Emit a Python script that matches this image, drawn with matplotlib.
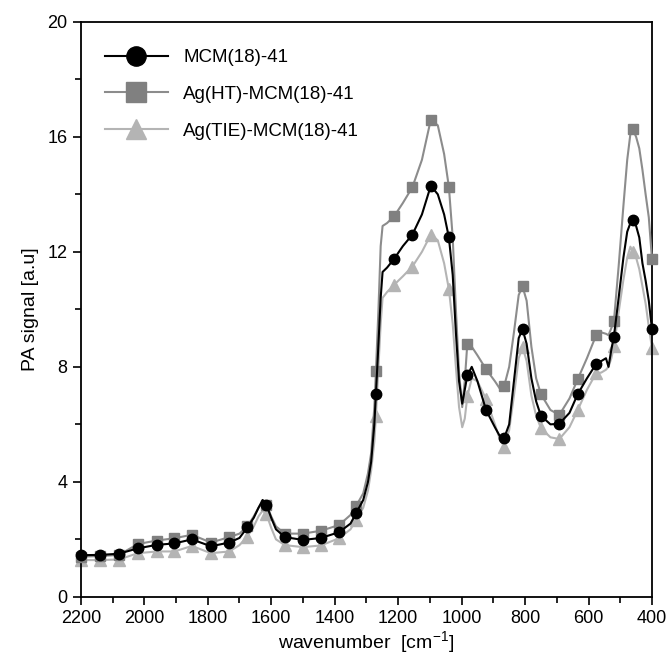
import numpy as np
import matplotlib.pyplot as plt
from matplotlib.ticker import MultipleLocator

plt.rcParams['font.family'] = ['Liberation Sans', 'DejaVu Sans']

# wavenumber grid (cm-1), shared by all three spectra
wn = [2200, 2140, 2080, 2020, 1960, 1905, 1850, 1790, 1732, 1700, 1675, 1655, 1640, 1627,
      1615, 1600, 1585, 1557, 1500, 1443, 1386, 1350, 1333, 1310, 1295, 1285, 1275, 1270,
      1262, 1255, 1249, 1235, 1213, 1185, 1155, 1125, 1097, 1075, 1055, 1040, 1028, 1018,
      1008, 998, 990, 982, 968, 950, 923, 895, 880, 866, 850, 835, 820, 808, 795, 780,
      765, 750, 720, 692, 660, 634, 605, 576, 560, 545, 537, 528, 520, 505, 490, 478,
      468, 461, 450, 440, 430, 420, 410, 400]

mcm = [1.45, 1.46, 1.50, 1.69, 1.81, 1.86, 2.00, 1.76, 1.89, 2.05, 2.42, 2.75, 3.10, 3.37,
       3.20, 2.75, 2.35, 2.08, 1.98, 2.05, 2.25, 2.55, 2.90, 3.37, 4.0, 4.7, 6.0, 7.05,
       8.8, 10.4, 11.3, 11.45, 11.75, 12.2, 12.6, 13.3, 14.3, 14.0, 13.3, 12.5, 11.2, 9.2,
       7.5, 6.72, 7.2, 7.7, 8.0, 7.5, 6.5, 5.9, 5.6, 5.52, 6.0, 7.5, 9.0, 9.31, 8.8, 7.6,
       6.8, 6.3, 6.0, 6.02, 6.4, 7.05, 7.6, 8.1, 8.2, 8.3, 8.0, 8.6, 9.05, 10.4, 11.8, 12.7,
       13.0, 13.1, 12.9, 12.5, 11.6, 11.0, 10.3, 9.31]

ag_ht = [1.40, 1.42, 1.46, 1.84, 1.96, 2.04, 2.16, 1.89, 2.08, 2.2, 2.45, 2.8, 3.1, 3.3,
         3.2, 2.8, 2.45, 2.2, 2.2, 2.3, 2.5, 2.85, 3.15, 3.6, 4.3, 5.0, 6.6, 7.84,
         10.0, 12.2, 12.9, 13.0, 13.23, 13.7, 14.25, 15.2, 16.6, 16.4, 15.4, 14.25, 12.5, 10.0,
         7.8, 6.6, 7.5, 8.8, 8.7, 8.4, 7.92, 7.5, 7.25, 7.32, 8.0, 9.2, 10.5, 10.8, 10.3, 8.7,
         7.6, 7.05, 6.5, 6.33, 6.9, 7.57, 8.3, 9.1, 9.2, 9.15, 9.1, 9.35, 9.58, 11.5, 13.6, 15.2,
         16.1, 16.27, 16.0, 15.6, 14.85, 14.0, 13.2, 11.75]

ag_tie = [1.28, 1.28, 1.30, 1.52, 1.58, 1.58, 1.77, 1.52, 1.58, 1.8, 2.10, 2.45, 2.8, 3.0,
          2.88, 2.4, 2.0, 1.8, 1.73, 1.79, 2.04, 2.35, 2.67, 3.1, 3.7, 4.4, 5.4, 6.3,
          8.0, 9.5, 10.4, 10.6, 10.85, 11.15, 11.49, 12.0, 12.6, 12.4, 11.6, 10.7, 9.5, 8.0,
          6.6, 5.9, 6.2, 6.97, 7.6, 7.5, 6.88, 6.0, 5.5, 5.23, 5.8, 7.0, 8.3, 8.7, 8.2, 7.0,
          6.3, 5.87, 5.55, 5.49, 5.9, 6.5, 7.2, 7.78, 7.8, 7.9, 8.0, 8.3, 8.71, 9.9, 11.03, 11.8,
          12.18, 12.0, 11.8, 11.4, 10.8, 10.2, 9.4, 8.65]

# points that carry a symbol
mark_wn = [2200, 2140, 2080, 2020, 1960, 1905, 1850, 1790, 1732, 1675, 1615, 1557, 1500,
           1443, 1386, 1333, 1270, 1213, 1155, 1097, 1040, 982, 923, 866, 808, 750, 692,
           634, 576, 520, 461, 400]
marks = [wn.index(w) for w in mark_wn]

labels = ['MCM(18)-41', 'Ag(HT)-MCM(18)-41', 'Ag(TIE)-MCM(18)-41']

fig = plt.figure(figsize=(6.68, 6.61), dpi=100)
ax = fig.add_axes([0.121, 0.097, 0.855, 0.870])

ax.plot(wn, ag_tie, color='#b4b4b4', lw=1.5, marker='^', ms=8, mec='#b4b4b4',
        mfc='#b4b4b4', markevery=marks, label=labels[2], zorder=2, clip_on=False)
ax.plot(wn, ag_ht, color='#8c8c8c', lw=1.5, marker='s', ms=7.5, mec='#808080',
        mfc='#808080', markevery=marks, label=labels[1], zorder=3, clip_on=False)
ax.plot(wn, mcm, color='black', lw=1.5, marker='o', ms=7.5, markevery=marks,
        label=labels[0], zorder=4, clip_on=False)

ax.set_xlim(2200, 400)
ax.set_ylim(0, 20)
ax.xaxis.set_major_locator(MultipleLocator(200))
ax.xaxis.set_minor_locator(MultipleLocator(100))
ax.yaxis.set_major_locator(MultipleLocator(4))
ax.yaxis.set_minor_locator(MultipleLocator(2))
ax.tick_params(which='both', direction='out', width=1.2, labelsize=13)
ax.tick_params(which='major', length=6)
ax.tick_params(which='minor', length=4)
for s in ax.spines.values():
    s.set_linewidth(1.3)

ax.set_xlabel(r'wavenumber  [cm$^{\mathregular{-1}}$]', fontsize=14, labelpad=2)
ax.set_ylabel('PA signal [a.u]', fontsize=14, labelpad=6)

h, l = ax.get_legend_handles_labels()
ax.legend(h[::-1], l[::-1], loc='upper left', bbox_to_anchor=(0.012, 0.982),
          frameon=False, fontsize=13.5, markerscale=1.85, handlelength=3.4,
          labelspacing=1.05, handletextpad=0.8)

fig.savefig('out.png', dpi=100)
